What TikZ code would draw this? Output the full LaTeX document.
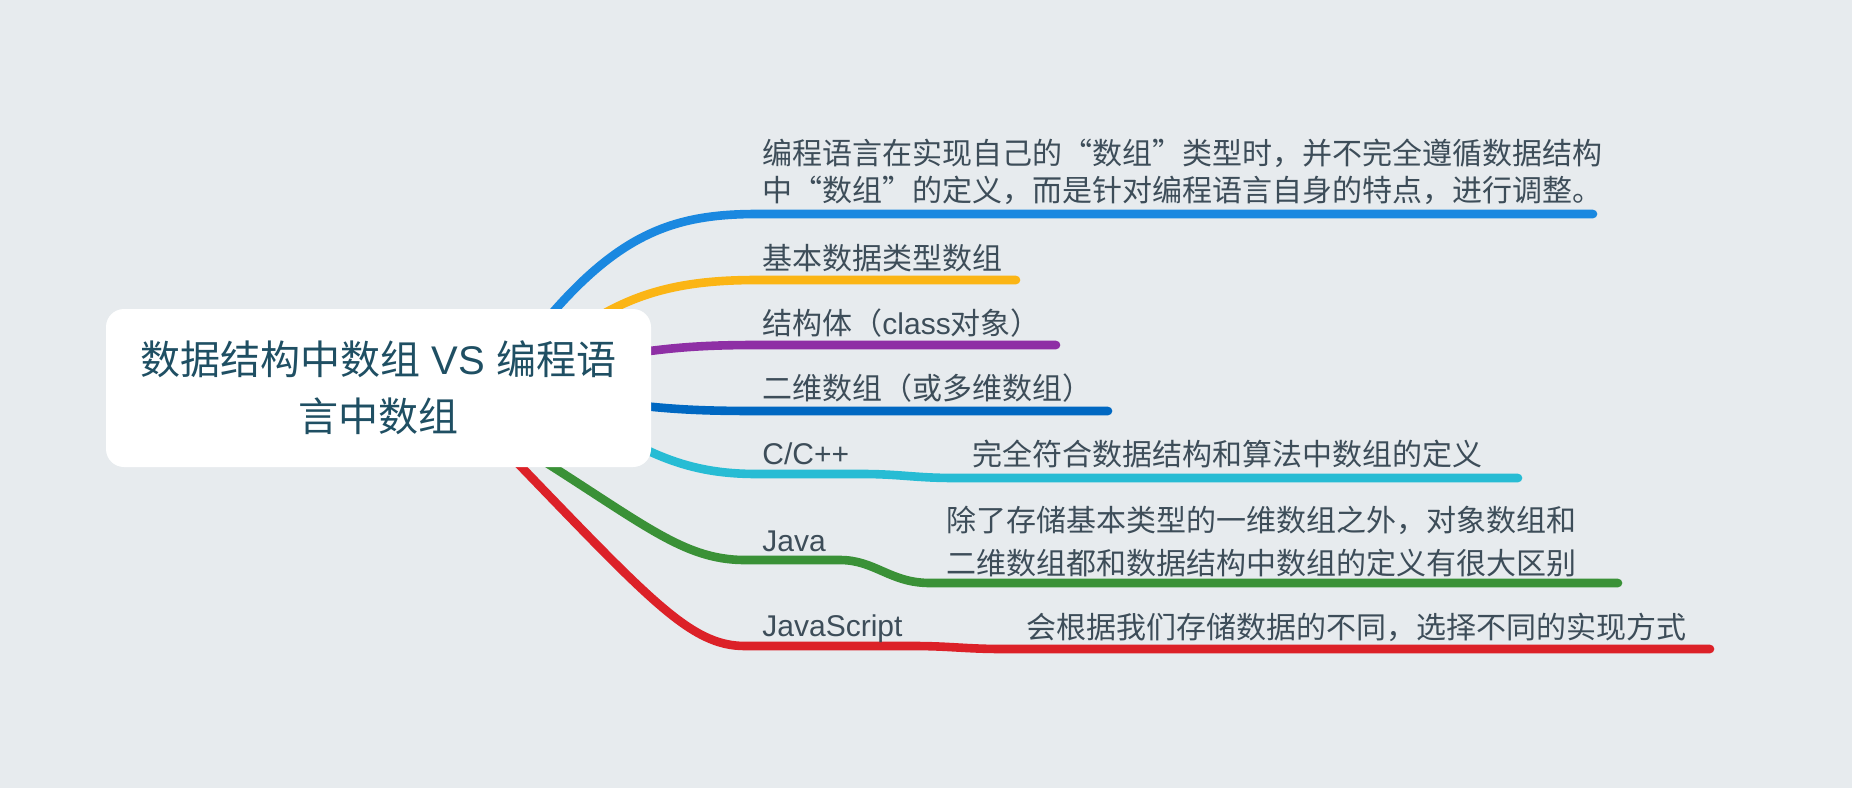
\documentclass[tikz,border=0pt]{standalone}
\usepackage{fontspec}
\setmainfont{Noto Sans CJK SC}
\newfontfamily\latinfont{Liberation Sans}

\definecolor{pageBg}{HTML}{E7EBEE}
\definecolor{rootText}{HTML}{1F4F63}
\definecolor{leafText}{HTML}{3D4D59}
\definecolor{cBlue}{HTML}{1A88E0}
\definecolor{cYellow}{HTML}{FBB515}
\definecolor{cPurple}{HTML}{8E2FA5}
\definecolor{cNavy}{HTML}{0068C2}
\definecolor{cCyan}{HTML}{27BCD4}
\definecolor{cGreen}{HTML}{3A9137}
\definecolor{cRed}{HTML}{DC2128}

\begin{document}
\begin{tikzpicture}[x=0.5pt, y=-0.5pt,
		branch/.style={line width=4.3pt, line cap=round, line join=round},
		leaf/.style={anchor=west, inner sep=0pt, align=left, text=leafText,
			text height=13.2pt, text depth=1.8pt, font=\fontsize{15}{20}\selectfont},
		rootbox/.style={fill=white, rounded corners=9pt, minimum width=272.5pt,
			minimum height=79pt, align=center, text=rootText,
			font=\fontsize{20}{28.5}\selectfont}]
	% page, 1852 x 788 px
	\fill[pageBg] (0,0) rectangle (1852,788);

	% roots of the branches (hidden under the box)
	\coordinate (rt1) at (500,380);
	\coordinate (rt2) at (520,380);
	\coordinate (rt3) at (560,365);
	\coordinate (rt4) at (560,395);
	\coordinate (rt5) at (560,400);
	\coordinate (rt6) at (510,440);
	\coordinate (rt7) at (505,450);
	% knees: where a branch runs flat under its label
	\coordinate (kn1) at (757,214);
	\coordinate (kn2) at (757,280);
	\coordinate (kn3) at (757,345);
	\coordinate (kn4) at (757,411);
	\coordinate (kn5) at (862,474);
	\coordinate (kn6) at (840,560);
	\coordinate (kn7) at (913,646);
	% ends
	\coordinate (en1) at (1593,214);
	\coordinate (en2) at (1016,280);
	\coordinate (en3) at (1056,345);
	\coordinate (en4) at (1108,411);
	\coordinate (en5) at (1518,478);
	\coordinate (en6) at (1618,583);
	\coordinate (en7) at (1710,649);

	% branches
	\draw[branch, cBlue] (rt1) .. controls (600,240) and (660,214) .. (kn1) -- (en1);
	\draw[branch, cYellow] (rt2) .. controls (600,300) and (660,280) .. (kn2) -- (en2);
	\draw[branch, cPurple] (rt3) .. controls (650,350) and (680,345) .. (kn3) -- (en3);
	\draw[branch, cNavy] (rt4) .. controls (650,408) and (680,411) .. (kn4) -- (en4);
	\draw[branch, cCyan] (rt5) .. controls (640,450) and (680,474) .. (757,474) -- (kn5)
		.. controls (900,474) and (915,478) .. (955,478) -- (en5);
	\draw[branch, cGreen] (rt6) .. controls (640,520) and (680,560) .. (745,560) -- (kn6)
		.. controls (875,560) and (890,583) .. (930,583) -- (en6);
	\draw[branch, cRed] (rt7) .. controls (650,600) and (690,646) .. (745,646) -- (kn7)
		.. controls (950,646) and (965,649) .. (1003,649) -- (en7);

	% central topic
	\node[rootbox] (root) at (378.5,388) {数据结构中数组{\latinfont\ VS }编程语\\言中数组};

	% labels (two-line ones are placed by their last line)
	\node[leaf, font=\fontsize{15}{18.5}\selectfont] (l1) at (762,190)
		{编程语言在实现自己的“数组”类型时，并不完全遵循数据结构\\中“数组”的定义，而是针对编程语言自身的特点，进行调整。};
	\node[leaf] (l2) at (762,258) {基本数据类型数组};
	\node[leaf] (l3) at (762,323) {结构体（{\latinfont class}对象）};
	\node[leaf] (l4) at (762,388) {二维数组（或多维数组）};
	\node[leaf, font=\latinfont\fontsize{15}{20}\selectfont] (l5) at (762,453) {C/C++};
	\node[leaf] (l5b) at (972,454) {完全符合数据结构和算法中数组的定义};
	\node[leaf, font=\latinfont\fontsize{15}{20}\selectfont] (l6) at (762,540) {Java};
	\node[leaf, font=\fontsize{15}{21.5}\selectfont] (l6b) at (946,563)
		{除了存储基本类型的一维数组之外，对象数组和\\二维数组都和数据结构中数组的定义有很大区别};
	\node[leaf, font=\latinfont\fontsize{15}{20}\selectfont] (l7) at (762,625) {JavaScript};
	\node[leaf] (l7b) at (1026,627) {会根据我们存储数据的不同，选择不同的实现方式};
\end{tikzpicture}
\end{document}
